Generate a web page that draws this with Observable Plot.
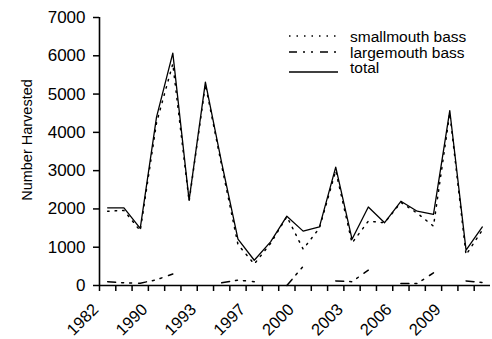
<!DOCTYPE html>
<html><head><meta charset="utf-8">
<script src="https://cdn.jsdelivr.net/npm/d3@7"></script>
<script src="https://cdn.jsdelivr.net/npm/@observablehq/plot@0.6"></script>
<style>
body{margin:0;background:#fff;}
#wrap{position:relative;width:492px;height:339px;}
#legend{position:absolute;left:0;top:0;pointer-events:none;}
</style></head><body><div id="wrap"></div>
<script>
const years = ["1982","1983","1989","1990","1991","1992","1993","1994","1996","1997","1998","1999","2000","2001","2002","2003","2004","2005","2006","2007","2008","2009","2010","2011"];
const total = [2030,2030,1490,4400,6070,2230,5310,3200,1210,660,1140,1810,1420,1530,3090,1210,2050,1640,2200,1940,1860,4570,925,1530];
const smallmouth = [1940,1960,1430,4250,5790,2200,5250,3130,1070,560,1100,1800,950,1500,3000,1110,1680,1640,2170,1890,1550,4500,800,1450];
const largemouth = [100,70,60,150,300,null,null,70,140,100,null,0,500,null,120,100,400,null,50,50,330,null,120,80];
const tickLabels = ["1982","1990","1993","1997","2000","2003","2006","2009"];
const yTicks = [0,1000,2000,3000,4000,5000,6000,7000];
const seriesNames = ["smallmouth bass","largemouth bass","total"];

const rows = years.map((yr,i)=>({i, yr, total: total[i], smallmouth: smallmouth[i], largemouth: largemouth[i]}));
const labelIdx = tickLabels.map(l => years.indexOf(l));
const edges = years.map((_, i) => i - 0.5);
const font = "'Liberation Sans', Arial, sans-serif";

const plot = Plot.plot({
  width: 492, height: 339,
  marginLeft: 99, marginRight: 2, marginTop: 17, marginBottom: 54,
  style: {fontFamily: font, background: "white", color: "#000"},
  x: {domain: [-0.5, years.length - 0.5], axis: null},
  y: {domain: [0, 7000], axis: null},
  marks: [
    Plot.axisY({ticks: yTicks, tickSize: 6, tickPadding: 8, tickFormat: d3.format("d"), fontSize: 17, label: null, strokeWidth: 1.5}),
    Plot.axisX({ticks: edges, tickSize: 6, tickFormat: () => "", label: null, strokeWidth: 1.5}),
    Plot.text(labelIdx, {x: i => i - 0.5, text: i => years[i], frameAnchor: "bottom", dy: 25, rotate: -45, textAnchor: "end", lineAnchor: "bottom", fontSize: 16.5}),
    Plot.ruleY([0], {strokeWidth: 1.6}),
    Plot.ruleX([-0.5], {strokeWidth: 1.6}),
    Plot.line(rows, {x: "i", y: "smallmouth", strokeDasharray: "1.5,6", strokeWidth: 1.5}),
    Plot.line(rows, {x: "i", y: "largemouth", strokeDasharray: "8,6,2,6,2,7", strokeWidth: 1.5}),
    Plot.line(rows, {x: "i", y: "total", strokeWidth: 1.3}),
    Plot.text(["Number Harvested"], {frameAnchor: "left", textAnchor: "middle", lineAnchor: "middle", dx: -72, dy: -11.5, rotate: -90, fontSize: 14.5})
  ]
});
const wrap = document.getElementById("wrap");
wrap.appendChild(plot);

// legend
const dashes = ["1.5,6", "8,6,2,6,2,7", null];
const lineY = [36, 52, 72];
const textY = [42, 57.5, 73];
const svg = d3.select(wrap).append("svg").attr("id","legend").attr("width",492).attr("height",339)
  .style("font-family", font).style("font-size","15.5px");
seriesNames.forEach((name, k) => {
  svg.append("line").attr("x1",289).attr("x2",338).attr("y1",lineY[k]).attr("y2",lineY[k])
    .attr("stroke","#000").attr("stroke-width",1.5).attr("stroke-dasharray",dashes[k]);
  svg.append("text").attr("x",350).attr("y",textY[k]).attr("fill","#000").text(name);
});
</script>
</body></html>
